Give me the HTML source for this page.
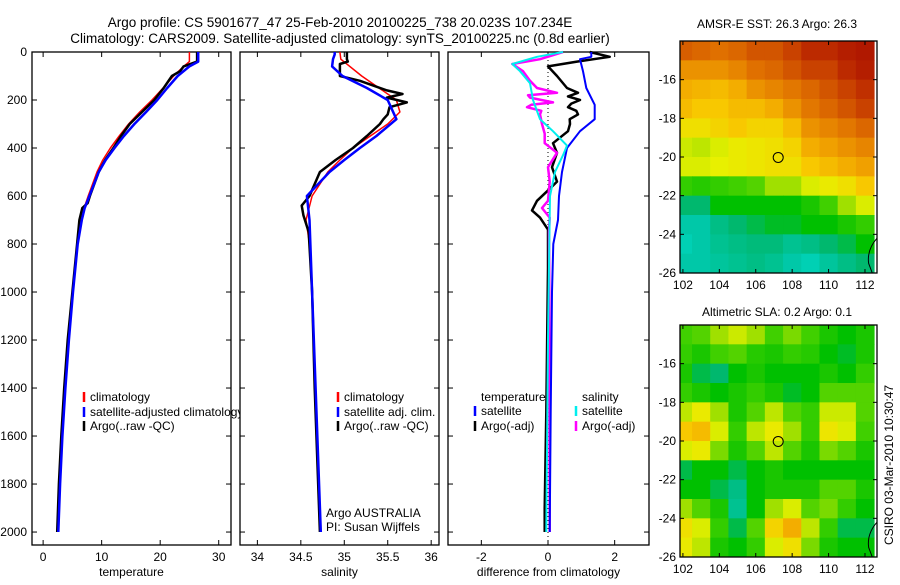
<!DOCTYPE html>
<html><head><meta charset="utf-8"><style>
body{margin:0;background:#fff;}
svg text{font-family:"Liberation Sans",sans-serif;fill:#000;}
</style></head><body>
<svg id="fig" width="900" height="580" viewBox="0 0 900 580" xmlns="http://www.w3.org/2000/svg">
<text x="340" y="27" font-size="13.5" text-anchor="middle">Argo profile: CS 5901677_47 25-Feb-2010 20100225_738 20.023S 107.234E</text>
<text x="340" y="43" font-size="13.5" text-anchor="middle">Climatology: CARS2009. Satellite-adjusted climatology: synTS_20100225.nc (0.8d earlier)</text>
<text x="777" y="28" font-size="12" text-anchor="middle">AMSR-E SST: 26.3 Argo: 26.3</text>
<text x="777" y="316" font-size="12" text-anchor="middle">Altimetric SLA: 0.2 Argo: 0.1</text>
<text transform="translate(893,465) rotate(-90)" font-size="12" text-anchor="middle">CSIRO 03-Mar-2010 10:30:47</text>
<g id="plots"></g>
</svg>
<script>
// ---- data ----
const depthTicks=[0,200,400,600,800,1000,1200,1400,1600,1800,2000];
const tempTicks=[0,10,20,30];
const salTicks=[34,34.5,35,35.5,36];
const diffTicks=[-2,0,2];
const lonTicks=[102,104,106,108,110,112];
const latTicks=[-16,-18,-20,-22,-24,-26];

const tClimDepth=[0,40,60,100,150,200,250,300,350,400,450,500,600,650,700,800,1000,1200,1400,1600,1800,2000];
const tClimVal=[25.0,25.0,24.0,22.3,20.5,18.6,16.5,14.6,13.0,11.5,10.2,9.2,7.7,7.0,6.4,5.8,5.0,4.3,3.7,3.2,2.8,2.5];
const tSatDepth=[0,40,60,100,150,200,250,300,350,400,450,500,600,650,700,800,1000,1200,1400,1600,1800,2000];
const tSatVal=[26.5,26.5,25.0,23.0,21.2,19.5,17.6,15.6,13.8,12.2,10.7,9.5,7.9,7.1,6.6,5.9,5.1,4.4,3.8,3.3,2.9,2.6];
const tArgoDepth=[0,40,60,80,100,150,200,250,300,350,400,450,500,600,630,650,700,800,1000,1200,1400,1600,1800,2000];
const tArgoVal=[26.3,26.3,24.0,23.4,22.0,20.6,19.0,16.9,14.8,13.3,12.0,10.6,9.5,8.0,7.6,6.7,6.2,5.8,5.0,4.2,3.6,3.1,2.7,2.4];

const sClimDepth=[0,30,100,150,200,250,300,350,400,450,500,600,700,800,1000,1400,2000];
const sClimVal=[34.95,34.96,35.2,35.4,35.6,35.64,35.5,35.3,35.1,34.95,34.81,34.63,34.56,34.6,34.63,34.66,34.72];
const sSatDepth=[0,10,30,60,100,150,200,280,350,400,450,500,600,700,1000,1400,2000];
const sSatVal=[34.89,34.89,34.87,34.86,34.98,35.26,35.5,35.6,35.37,35.18,35.0,34.83,34.57,34.6,34.63,34.67,34.73];
const sArgoDepth=[0,30,40,50,100,120,160,175,190,210,230,260,280,300,350,400,450,500,600,640,680,750,1000,1400,2000];
const sArgoVal=[35.03,35.03,35.04,34.95,34.95,35.18,35.49,35.67,35.49,35.72,35.52,35.5,35.45,35.41,35.26,35.1,34.9,34.72,34.6,34.51,34.53,34.59,34.63,34.66,34.72];

const dTSatDepth=[0,20,30,80,150,220,280,330,400,500,600,700,800,1000,1500,2000];
const dTSatVal=[1.3,1.3,0.96,1.05,1.15,1.4,1.4,0.96,0.57,0.42,0.33,0.3,0.16,0.12,0.08,0.05];
const dTArgoDepth=[0,20,40,60,100,150,170,185,200,215,230,245,260,280,300,330,380,420,480,540,570,620,660,690,740,900,1500,1900,2000];
const dTArgoVal=[1.25,1.85,0.87,0.0,0.27,0.57,0.9,0.6,0.96,0.7,0.6,0.85,0.9,0.65,0.66,0.6,0.15,0.27,0.12,0.27,0.05,-0.33,-0.48,-0.24,0.0,0.0,-0.05,-0.1,-0.1];
const dSSatDepth=[0,20,50,80,130,200,280,330,390,430,500,600,800,1200,2000];
const dSSatVal=[0.45,-0.33,-1.07,-0.84,-0.54,-0.45,-0.24,0.15,0.57,0.45,0.21,0.06,0.04,0.0,-0.05];
const dSArgoDepth=[0,30,50,80,120,150,170,180,190,210,220,230,245,260,300,340,380,420,480,540,620,650,690,750,1000,2000];
const dSArgoVal=[0.45,-0.24,-1.07,-0.75,-0.54,-0.33,0.27,-0.6,-0.54,0.15,-0.5,-0.63,-0.2,-0.24,-0.18,-0.1,-0.1,0.27,0.0,0.05,0.0,-0.18,0.05,0.03,0.04,0.05];

const mapLats=[-14.5,-15.5,-16.5,-17.5,-18.5,-19.5,-20.5,-21.5,-22.5,-23.5,-24.5,-25.5];
const mapLons=[102,103,104,105,106,107,108,109,110,111,112];
const sstGrid=[
[0.87,0.86,0.85,0.86,0.88,0.88,0.9,0.93,0.93,0.95,0.96],
[0.8,0.8,0.8,0.82,0.85,0.86,0.88,0.9,0.9,0.93,0.95],
[0.76,0.75,0.74,0.76,0.8,0.82,0.84,0.86,0.88,0.9,0.92],
[0.74,0.72,0.72,0.74,0.74,0.76,0.8,0.84,0.86,0.88,0.9],
[0.68,0.68,0.7,0.72,0.7,0.7,0.74,0.8,0.82,0.84,0.86],
[0.63,0.62,0.64,0.66,0.67,0.68,0.7,0.76,0.78,0.8,0.82],
[0.64,0.64,0.65,0.66,0.67,0.68,0.68,0.72,0.74,0.76,0.78],
[0.54,0.53,0.54,0.55,0.56,0.6,0.6,0.64,0.66,0.68,0.72],
[0.47,0.47,0.5,0.5,0.5,0.5,0.5,0.52,0.55,0.6,0.64],
[0.42,0.42,0.45,0.47,0.48,0.49,0.49,0.5,0.5,0.52,0.54],
[0.4,0.42,0.44,0.45,0.46,0.46,0.44,0.45,0.47,0.48,0.5],
[0.42,0.42,0.43,0.44,0.45,0.44,0.42,0.4,0.43,0.45,0.47]];
const slaGrid=[
[0.55,0.56,0.6,0.63,0.6,0.55,0.58,0.55,0.52,0.5,0.52],
[0.54,0.52,0.55,0.56,0.53,0.52,0.54,0.53,0.5,0.49,0.52],
[0.52,0.48,0.47,0.5,0.52,0.5,0.5,0.5,0.52,0.5,0.54],
[0.54,0.52,0.5,0.52,0.54,0.52,0.49,0.5,0.56,0.56,0.56],
[0.62,0.66,0.6,0.52,0.56,0.62,0.56,0.54,0.63,0.63,0.56],
[0.72,0.74,0.64,0.54,0.62,0.66,0.6,0.54,0.67,0.64,0.55],
[0.64,0.66,0.58,0.52,0.56,0.62,0.56,0.52,0.58,0.56,0.52],
[0.48,0.5,0.5,0.48,0.5,0.52,0.5,0.5,0.5,0.5,0.5],
[0.5,0.5,0.48,0.45,0.5,0.52,0.52,0.52,0.56,0.56,0.52],
[0.6,0.56,0.52,0.44,0.5,0.6,0.64,0.56,0.58,0.54,0.5],
[0.68,0.64,0.54,0.48,0.56,0.7,0.76,0.62,0.54,0.48,0.48],
[0.66,0.62,0.52,0.5,0.54,0.64,0.68,0.58,0.52,0.5,0.5]];
const argoLon=107.234, argoLat=-20.023;

// ---- rendering ----
const NS='http://www.w3.org/2000/svg';
const root=document.getElementById('plots');
function mk(tag,attrs,parent){const e=document.createElementNS(NS,tag);for(const k in attrs)e.setAttribute(k,attrs[k]);(parent||root).appendChild(e);return e;}
function lin(d0,d1,r0,r1){return v=>r0+(v-d0)*(r1-r0)/(d1-d0);}
const Y=lin(0,2054,52,545);

function panel(x0,x1,xd0,xd1,xticks,label,name,showY){
  const X=lin(xd0,xd1,x0,x1);
  const g=mk('g',{});
  
  
  const fr=mk('rect',{x:x0,y:52,width:x1-x0,height:493,fill:'none',stroke:'#000','stroke-width':1.3},g);
  
  
  depthTicks.forEach(d=>{
    mk('line',{x1:x0,x2:x0+5,y1:Y(d),y2:Y(d),stroke:'#000'},g);
    mk('line',{x1:x1-5,x2:x1,y1:Y(d),y2:Y(d),stroke:'#000'},g);
    if(showY){const t=mk('text',{x:27,y:Y(d)+4,'font-size':12,'text-anchor':'end'},g);t.textContent=d;
      
      }
  });
  xticks.forEach(v=>{
    mk('line',{x1:X(v),x2:X(v),y1:545,y2:540,stroke:'#000'},g);
    mk('line',{x1:X(v),x2:X(v),y1:52,y2:57,stroke:'#000'},g);
    const t=mk('text',{x:X(v),y:561,'font-size':12,'text-anchor':'middle'},g);t.textContent=v;
    
    
  });
  const xl=mk('text',{x:(x0+x1)/2,y:576,'font-size':12,'text-anchor':'middle'},g);xl.textContent=label;
  
  
  return {X,g};
}
function line(p,ds,vs,color,w,name){
  const pts=ds.map((d,i)=>p.X(vs[i]).toFixed(1)+','+Y(d).toFixed(1)).join(' ');
  const l=mk('polyline',{points:pts,fill:'none',stroke:color,'stroke-width':w,'stroke-linejoin':'round'},p.g);
  
  
}
function legend(g,x,y,color,txt,name){
  if(color){const m=mk('line',{x1:x,x2:x,y1:y-9,y2:y+1,stroke:color,'stroke-width':2.5},g);
    
    }
  const t=mk('text',{x:x+6,y:y,'font-size':12},g);t.textContent=txt;
  
  
  return t;
}

const p1=panel(32,231,-1.9,32.1,tempTicks,'temperature','temperature-panel',true);
line(p1,tClimDepth,tClimVal,'#f00',1.5,'temp-climatology-line');
line(p1,tArgoDepth,tArgoVal,'#000',2.5,'temp-argo-line');
line(p1,tSatDepth,tSatVal,'#00f',2.5,'temp-satellite-line');
legend(p1.g,84,401,'#f00','climatology','legend-climatology');
mk('clipPath',{id:'c1'},p1.g).appendChild(document.createElementNS(NS,'rect'));
document.querySelector('#c1 rect').setAttribute('x',0);document.querySelector('#c1 rect').setAttribute('y',0);
document.querySelector('#c1 rect').setAttribute('width',240);document.querySelector('#c1 rect').setAttribute('height',580);
legend(p1.g,84,416,'#00f','satellite-adjusted climatology','legend-satellite-adjusted').setAttribute('clip-path','url(#c1)');
legend(p1.g,84,430,'#000','Argo(..raw -QC)','legend-argo');

const p2=panel(240,439,33.8,36.09,salTicks,'salinity','salinity-panel',false);
line(p2,sClimDepth,sClimVal,'#f00',1.5,'sal-climatology-line');
line(p2,sArgoDepth,sArgoVal,'#000',2.5,'sal-argo-line');
line(p2,sSatDepth,sSatVal,'#00f',2.5,'sal-satellite-line');
legend(p2.g,338,401,'#f00','climatology','legend-climatology');
legend(p2.g,338,416,'#00f','satellite adj. clim.','legend-satellite-adj');
legend(p2.g,338,430,'#000','Argo(..raw -QC)','legend-argo');
legend(p2.g,320,517,null,'Argo AUSTRALIA','argo-country-label');
legend(p2.g,320,531,null,'PI: Susan Wijffels','pi-label');

const p3=panel(448,649,-3,3.03,diffTicks,'difference from climatology','difference-panel',false);
const zl=mk('line',{x1:p3.X(0),x2:p3.X(0),y1:52,y2:545,stroke:'#000','stroke-dasharray':'1,3'},p3.g);


line(p3,dTArgoDepth,dTArgoVal,'#000',2.5,'diff-temp-argo-line');
line(p3,dSArgoDepth,dSArgoVal,'#f0f',2.5,'diff-sal-argo-line');
line(p3,dTSatDepth,dTSatVal,'#00f',2,'diff-temp-satellite-line');
line(p3,dSSatDepth,dSSatVal,'#0ee',2,'diff-sal-satellite-line');
legend(p3.g,475,401,null,'temperature','legend-temperature-header');
legend(p3.g,475,415,'#00f','satellite','legend-temp-satellite');
legend(p3.g,475,430,'#000','Argo(-adj)','legend-temp-argo');
legend(p3.g,576,401,null,'salinity','legend-salinity-header');
legend(p3.g,576,415,'#0ee','satellite','legend-sal-satellite');
legend(p3.g,576,430,'#f0f','Argo(-adj)','legend-sal-argo');

// colormap
const stops=[[0.38,[0,216,192]],[0.42,[0,200,168]],[0.47,[0,184,110]],[0.5,[0,192,0]],[0.55,[64,208,0]],[0.6,[160,224,0]],[0.65,[232,240,0]],[0.72,[248,200,0]],[0.78,[240,160,0]],[0.85,[224,112,0]],[0.92,[192,48,0]],[1.0,[160,0,0]]];
function cmap(v){
  if(v<=stops[0][0])return 'rgb('+stops[0][1]+')';
  for(let i=1;i<stops.length;i++){if(v<=stops[i][0]){const a=stops[i-1],b=stops[i],t=(v-a[0])/(b[0]-a[0]);
    return 'rgb('+a[1].map((c,k)=>Math.round(c+(b[1][k]-c)*t)).join(',')+')';}}
  return 'rgb('+stops[stops.length-1][1]+')';
}
function map(y0,y1,grid,name){
  const x0=680,x1=877;
  const X=lin(101.84,112.66,x0,x1), YY=lin(-14.0,-26.0,y0,y1);
  const g=mk('g',{});
  
  
  grid.forEach((row,r)=>row.forEach((v,c)=>{
    const xa=Math.max(x0,X(mapLons[c]-0.5)), xb=Math.min(x1,X(mapLons[c]+0.5));
    const ya=YY(mapLats[r]+0.5), yb=YY(mapLats[r]-0.5);
    const rc=mk('rect',{x:xa,y:ya,width:xb-xa+0.5,height:yb-ya+0.5,fill:cmap(v)},g);
    
    
  }));
  const coast=mk('path',{d:`M${X(112.66)},${YY(-24.2)} Q${X(112.1)},${YY(-24.8)} ${X(112.2)},${YY(-25.5)} L${X(112.4)},${YY(-26)}`,fill:'none',stroke:'#000'},g);
  
  
  const fr=mk('rect',{x:x0,y:y0,width:x1-x0,height:y1-y0,fill:'none',stroke:'#000','stroke-width':1.3},g);
  
  
  lonTicks.forEach(v=>{
    mk('line',{x1:X(v),x2:X(v),y1:y1,y2:y1-4,stroke:'#000'},g);
    mk('line',{x1:X(v),x2:X(v),y1:y0,y2:y0+4,stroke:'#000'},g);
    const t=mk('text',{x:X(v),y:y1+16,'font-size':12,'text-anchor':'middle'},g);t.textContent=v;
    
    
  });
  latTicks.forEach(v=>{
    mk('line',{x1:x0,x2:x0+4,y1:YY(v),y2:YY(v),stroke:'#000'},g);
    mk('line',{x1:x1-4,x2:x1,y1:YY(v),y2:YY(v),stroke:'#000'},g);
    const t=mk('text',{x:x0-4,y:YY(v)+4,'font-size':12,'text-anchor':'end'},g);t.textContent=v;
    
    
  });
  const c=mk('circle',{cx:X(argoLon),cy:YY(argoLat),r:5,fill:'none',stroke:'#000'},g);
  
  
}
map(41,273,sstGrid,'sst-map');
map(325,557,slaGrid,'sla-map');
</script>
</body></html>
